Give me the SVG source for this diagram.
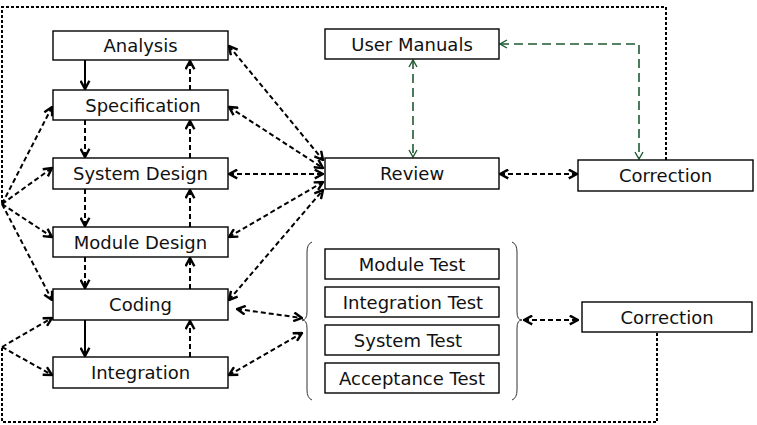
<svg xmlns="http://www.w3.org/2000/svg" width="757" height="425" viewBox="0 0 757 425">
<defs>
<marker id="ah" viewBox="0 0 10 10" refX="9" refY="5" markerWidth="11" markerHeight="11" markerUnits="userSpaceOnUse" orient="auto-start-reverse">
<path d="M1.5,1 L9,5 L1.5,9" fill="none" stroke="#000" stroke-width="2.2"/>
</marker>
<marker id="ag" viewBox="0 0 10 10" refX="9" refY="5" markerWidth="10" markerHeight="10" markerUnits="userSpaceOnUse" orient="auto-start-reverse">
<path d="M2,1 L9,5 L2,9" fill="none" stroke="#1f5a32" stroke-width="1.4"/>
</marker>
</defs>
<style>
.box{fill:#fff;stroke:#000;stroke-width:1.4}
.t{font-family:"DejaVu Sans",Verdana,sans-serif;font-size:18px;fill:#111;text-anchor:middle}
.c{fill:none;stroke:#000;stroke-width:2}
.d{stroke-dasharray:5,3}
.one{marker-end:url(#ah)}
.two{marker-start:url(#ah);marker-end:url(#ah)}
.g{fill:none;stroke:#1f5a32;stroke-width:1.6;stroke-dasharray:9,5;marker-start:url(#ag);marker-end:url(#ag)}
.o{fill:none;stroke:#000;stroke-width:2;stroke-dasharray:3,2}
.br{fill:none;stroke:#333;stroke-width:1}
</style>
<rect width="757" height="425" fill="#fff"/>
<g id="connectors">
<path class="o" d="M666,160 V7 H2 V204"/>
<path class="o" d="M657,333 V422 H2 V347"/>
<path class="c one" d="M85,60 V89"/>
<path class="c one" d="M85,320 V356"/>
<path class="c d one" d="M85,120 V157"/>
<path class="c d one" d="M85,189 V226"/>
<path class="c d one" d="M85,257 V288"/>
<path class="c d one" d="M190,90 V61"/>
<path class="c d one" d="M190,158 V121"/>
<path class="c d one" d="M190,227 V190"/>
<path class="c d one" d="M190,289 V258"/>
<path class="c d one" d="M190,357 V321"/>
<path class="c d one" d="M2,204 L52,107"/>
<path class="c d one" d="M2,204 L52,168"/>
<path class="c d one" d="M2,204 L52,237"/>
<path class="c d one" d="M2,204 L52,300"/>
<path class="c d one" d="M2,347 L52,318"/>
<path class="c d one" d="M2,347 L52,375"/>
<path class="c d two" d="M229,46 L323,160"/>
<path class="c d two" d="M229,107 L323,168"/>
<path class="c d two" d="M229,174 L323,174"/>
<path class="c d two" d="M229,237 L323,182"/>
<path class="c d two" d="M229,300 L323,190"/>
<path class="c d two" d="M500,174 L577,174"/>
<path class="c d two" d="M237,309 L302,318"/>
<path class="c d two" d="M229,375 L302,333"/>
<path class="c d two" d="M524,320 L578,320"/>
<path class="g" d="M413,60 V157"/>
<path class="g" d="M500,44 H639 V159"/>
<path class="br" d="M312,242 Q307,244 307,252 L307,312 Q307,320 302,320 Q307,320 307,328 L307,390 Q307,398 312,400"/>
<path class="br" d="M512,242 Q517,244 517,252 L517,312 Q517,320 522,320 Q517,320 517,328 L517,390 Q517,398 512,400"/>
</g>
<g id="analysis"><rect class="box" x="53" y="31" width="175" height="29"/><text class="t" x="140.5" y="52">Analysis</text></g>
<g id="specification"><rect class="box" x="53" y="90" width="175" height="30"/><text class="t" x="143" y="112">Specification</text></g>
<g id="system-design"><rect class="box" x="53" y="158" width="175" height="31"/><text class="t" x="140.5" y="180">System Design</text></g>
<g id="module-design"><rect class="box" x="53" y="227" width="175" height="30"/><text class="t" x="140.5" y="249">Module Design</text></g>
<g id="coding"><rect class="box" x="53" y="289" width="175" height="31"/><text class="t" x="140.5" y="311">Coding</text></g>
<g id="integration"><rect class="box" x="53" y="357" width="175" height="31"/><text class="t" x="140.5" y="379">Integration</text></g>
<g id="user-manuals"><rect class="box" x="325" y="29" width="174" height="30"/><text class="t" x="412" y="51">User Manuals</text></g>
<g id="review"><rect class="box" x="325" y="158" width="174" height="31"/><text class="t" x="412" y="180">Review</text></g>
<g id="correction-top"><rect class="box" x="578" y="160" width="175" height="31"/><text class="t" x="665.5" y="182">Correction</text></g>
<g id="correction-bottom"><rect class="box" x="582" y="302" width="170" height="30"/><text class="t" x="667" y="324">Correction</text></g>
<g id="module-test"><rect class="box" x="325" y="249" width="174" height="30"/><text class="t" x="412" y="271">Module Test</text></g>
<g id="integration-test"><rect class="box" x="325" y="287" width="174" height="30"/><text class="t" x="413" y="309">Integration Test</text></g>
<g id="system-test"><rect class="box" x="325" y="325" width="174" height="30"/><text class="t" x="408" y="347">System Test</text></g>
<g id="acceptance-test"><rect class="box" x="325" y="363" width="174" height="30"/><text class="t" x="412" y="385">Acceptance Test</text></g>
</svg>
